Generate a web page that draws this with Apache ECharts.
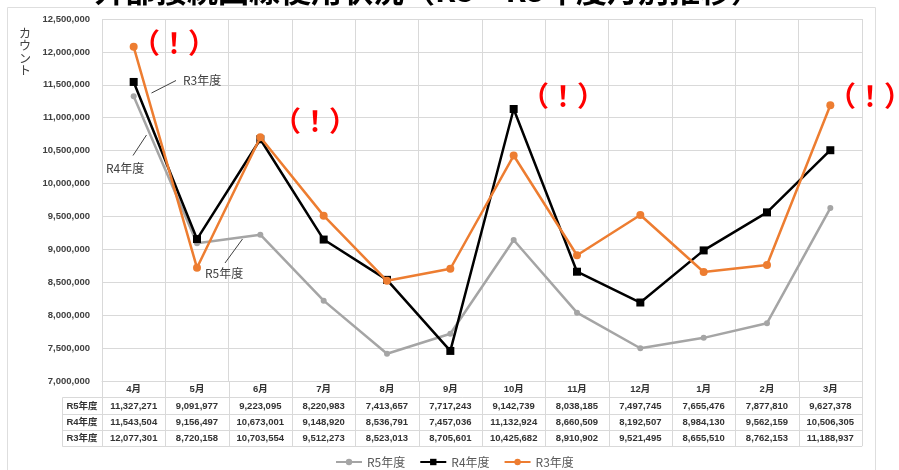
<!DOCTYPE html>
<html>
<head>
<meta charset="utf-8">
<script src="https://cdn.jsdelivr.net/npm/echarts@6/dist/echarts.min.js"></script>
<style>
  html, body { margin: 0; padding: 0; background: #fff; }
  #chart { width: 899px; height: 470px; }
</style>
</head>
<body>
<div id="chart"></div>
<script>
// Months of the fiscal year (April to March)
const months = ['4月', '5月', '6月', '7月', '8月', '9月', '10月', '11月', '12月', '1月', '2月', '3月'];

// Monthly counts per fiscal year
const seriesNames = ['R5年度', 'R4年度', 'R3年度'];
const r5 = [11327271, 9091977, 9223095, 8220983, 7413657, 7717243, 9142739, 8038185, 7497745, 7655476, 7877810, 9627378];
const r4 = [11543504, 9156497, 10673001, 9148920, 8536791, 7457036, 11132924, 8660509, 8192507, 8984130, 9562159, 10506305];
const r3 = [12077301, 8720158, 10703554, 9512273, 8523013, 8705601, 10425682, 8910902, 9521495, 8655510, 8762153, 11188937];

// Value axis range
const yMin = 7000000;
const yMax = 12500000;
const yStep = 500000;

const titleText = '外部接続回線使用状況（R3～R5年度月別推移）';
const yAxisTitle = 'カウント';
const alertText = '（！）';
// Months flagged with an alert mark
const alertMonths = ['4月', '6月', '10月', '3月'];

const colors = { r5: '#a5a5a5', r4: '#000000', r3: '#ed7d31', grid: '#d9d9d9', text: '#404040' };
const numFont = '"Liberation Sans", "Noto Sans CJK JP", sans-serif';
const jpFont = '"Noto Sans CJK JP", "Liberation Sans", sans-serif';

const fmt = v => v.toLocaleString('en-US');

const chart = echarts.init(document.getElementById('chart'), null, { renderer: 'canvas' });

const grid = { left: 102, right: 37, top: 19, bottom: 89 };

chart.setOption({
  animation: false,
  backgroundColor: '#ffffff',
  grid: grid,
  legend: {
    data: seriesNames,
    left: 330,
    top: 451,
    itemWidth: 26,
    itemHeight: 8,
    itemGap: 14,
    textStyle: { color: '#595959', fontSize: 12, fontFamily: jpFont }
  },
  xAxis: {
    type: 'category',
    data: months,
    boundaryGap: true,
    axisLine: { lineStyle: { color: colors.grid, width: 1 } },
    axisTick: { show: false },
    axisLabel: { show: false },
    splitLine: { show: true, interval: 0, lineStyle: { color: colors.grid, width: 1 } }
  },
  yAxis: {
    type: 'value',
    min: yMin,
    max: yMax,
    interval: yStep,
    axisLine: { show: false },
    axisTick: { show: false },
    axisLabel: {
      formatter: v => fmt(v),
      color: '#404040',
      fontSize: 9.5,
      fontWeight: 'bold',
      fontFamily: numFont,
      margin: 12
    },
    splitLine: { lineStyle: { color: colors.grid, width: 1 } }
  },
  series: [
    {
      name: seriesNames[0], type: 'line', data: r5,
      symbol: 'circle', symbolSize: 6,
      lineStyle: { color: colors.r5, width: 2.5 },
      itemStyle: { color: colors.r5 }, z: 2
    },
    {
      name: seriesNames[1], type: 'line', data: r4,
      symbol: 'rect', symbolSize: 8,
      lineStyle: { color: colors.r4, width: 2.5 },
      itemStyle: { color: colors.r4 }, z: 3
    },
    {
      name: seriesNames[2], type: 'line', data: r3,
      symbol: 'circle', symbolSize: 8,
      lineStyle: { color: colors.r3, width: 2.5 },
      itemStyle: { color: colors.r3 }, z: 4
    }
  ]
});

// Build the data table, frame and annotations from the axis scales
const px = i => chart.convertToPixel({ xAxisIndex: 0 }, i);
const py = v => chart.convertToPixel({ yAxisIndex: 0 }, v);
const step = px(1) - px(0);
const xLeft = px(0) - step / 2;
const xRight = px(months.length - 1) + step / 2;
const yBase = py(yMin);
const rowH = 16.3;
const labelColLeft = xLeft - 40;
const rows = [r5, r4, r3];
const tableBottom = yBase + rowH * 4;

const g = [];
const line = (x1, y1, x2, y2, color) => g.push({
  type: 'line', silent: true, z: 10,
  shape: { x1, y1, x2, y2 },
  style: { stroke: color || colors.grid, lineWidth: 1 }
});
const text = (t, x, y, font, color, align, vAlign, extra) => g.push({
  type: 'text', silent: true, z: 20,
  style: Object.assign({ text: t, x, y, font, fill: color || colors.text, align: align || 'center', verticalAlign: vAlign || 'middle' }, extra || {})
});

// Outer frame
g.push({
  type: 'rect', silent: true, z: 0,
  shape: { x: 7.5, y: 7.5, width: 868, height: 480 },
  style: { fill: 'none', stroke: '#dedede', lineWidth: 1 }
});

// Table grid lines
for (let i = 0; i <= months.length; i++) {
  const x = Math.round(xLeft + step * i) + 0.5;
  line(x, yBase, x, tableBottom);
}
for (let r = 1; r <= 4; r++) {
  const y = Math.round(yBase + rowH * r) + 0.5;
  line(Math.round(labelColLeft) + 0.5, y, xRight, y);
}
line(Math.round(labelColLeft) + 0.5, Math.round(yBase + rowH) + 0.5, Math.round(labelColLeft) + 0.5, Math.round(tableBottom) + 0.5);

// Table header and values
months.forEach((m, i) => {
  text(m, px(i), yBase + rowH * 0.5 + 0.5, 'bold 9.5px ' + numFont, '#333');
  rows.forEach((arr, r) => {
    text(fmt(arr[i]), px(i), yBase + rowH * (r + 1.5) + 0.5, 'bold 9.5px ' + numFont, '#333');
  });
});
seriesNames.forEach((n, r) => {
  text(n, labelColLeft + 20, yBase + rowH * (r + 1.5) + 0.5, 'bold 9.5px ' + numFont, '#333');
});

// Axis title, stacked vertically
text(yAxisTitle.split('').join('\n'), 25, 27, '12px ' + jpFont, '#404040', 'center', 'top', { lineHeight: 12.5 });

// Chart title
text(titleText, 428, 6, 'bold 31px ' + jpFont, '#000', 'center', 'bottom');

// Series callouts with leader lines
const callouts = [
  { name: seriesNames[2], line: [151.5, 93, 176, 80.5], tx: 183, ty: 80 },
  { name: seriesNames[1], line: [146.5, 135, 133, 155.5], tx: 106, ty: 168 },
  { name: seriesNames[0], line: [242.5, 239, 225, 263], tx: 205, ty: 273 }
];
callouts.forEach(c => {
  line(c.line[0], c.line[1], c.line[2], c.line[3], '#404040');
  text(c.name, c.tx, c.ty, '12px ' + jpFont, '#404040', 'left');
});

// Alert marks
const alertPos = { '4月': [174, 43], '6月': [315, 121], '10月': [563, 96], '3月': [870, 96] };
alertMonths.forEach(m => {
  const p = alertPos[m];
  text(alertText, p[0], p[1], 'bold 28px ' + jpFont, '#ff0000', 'center');
});

chart.setOption({ graphic: { elements: g } });
</script>
</body>
</html>
